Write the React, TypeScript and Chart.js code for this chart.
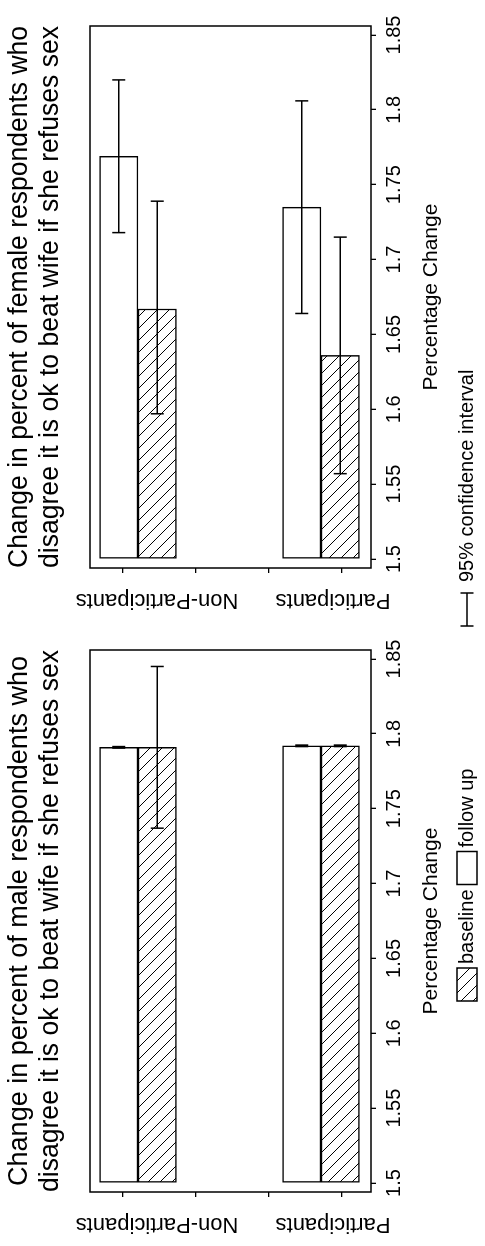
import React, { useEffect, useRef } from 'react';
import { Chart, registerables } from 'chart.js';
Chart.register(...registerables);

const FONT = '"Liberation Sans", Arial, sans-serif';
Chart.defaults.font.family = FONT;
Chart.defaults.color = '#000';

// ---------- data ----------
const categories = ['Non-Participants', 'Participants'];
const seriesNames = ['baseline', 'follow up'];
const ciName = '95% confidence interval';

const maleBaseline = [1.791, 1.792];
const maleBaselineLow = [1.737, 1.7915];
const maleBaselineHigh = [1.845, 1.7925];
const maleFollowUp = [1.791, 1.792];
const maleFollowUpLow = [1.7905, 1.7915];
const maleFollowUpHigh = [1.7915, 1.7925];

const femaleBaseline = [1.667, 1.636];
const femaleBaselineLow = [1.597, 1.557];
const femaleBaselineHigh = [1.739, 1.715];
const femaleFollowUp = [1.769, 1.735];
const femaleFollowUpLow = [1.718, 1.664];
const femaleFollowUpHigh = [1.82, 1.806];

const valueTicks = [1.5, 1.55, 1.6, 1.65, 1.7, 1.75, 1.8, 1.85];
const valueTickLabels = ['1.5', '1.55', '1.6', '1.65', '1.7', '1.75', '1.8', '1.85'];
const categoryTickMarks = [-0.082, 0.317, 0.716, 1.112];

const maleTitle = [
  'Change in percent of male respondents who',
  'disagree it is ok to beat wife if she refuses sex',
];
const femaleTitle = [
  'Change in percent of female respondents who',
  'disagree it is ok to beat wife if she refuses sex',
];
const axisTitle = 'Percentage Change';

// ---------- helpers ----------
function makeHatch(): CanvasPattern | string {
  const s = 12;
  const c = document.createElement('canvas');
  c.width = s;
  c.height = s;
  const g = c.getContext('2d');
  if (!g) return '#fff';
  g.fillStyle = '#fff';
  g.fillRect(0, 0, s, s);
  g.strokeStyle = '#000';
  g.lineWidth = 1;
  g.beginPath();
  g.moveTo(-2, -2);
  g.lineTo(s + 2, s + 2);
  g.moveTo(s - 2, -2);
  g.lineTo(s + 2, 2);
  g.moveTo(-2, s - 2);
  g.lineTo(2, s + 2);
  g.stroke();
  return g.createPattern(c, 'repeat') || '#fff';
}

const framePlugin = {
  id: 'frame',
  afterDatasetsDraw(chart: any) {
    const { ctx, chartArea } = chart;
    ctx.save();
    ctx.strokeStyle = '#000';
    ctx.lineWidth = 1.5;
    ctx.strokeRect(chartArea.left, chartArea.top, chartArea.right - chartArea.left, chartArea.bottom - chartArea.top);
    ctx.restore();
  },
};

const ciPlugin = {
  id: 'ci',
  afterDatasetsDraw(chart: any) {
    const { ctx } = chart;
    const xs = chart.scales.x;
    ctx.save();
    ctx.strokeStyle = '#000';
    ctx.lineWidth = 1.5;
    chart.data.datasets.forEach((ds: any, d: number) => {
      const meta = chart.getDatasetMeta(d);
      meta.data.forEach((el: any, i: number) => {
        const lo = xs.getPixelForValue(ds.ciLow[i]);
        const hi = xs.getPixelForValue(ds.ciHigh[i]);
        const y = el.y;
        const cap = 6.5;
        ctx.beginPath();
        ctx.moveTo(lo, y);
        ctx.lineTo(hi, y);
        ctx.moveTo(lo, y - cap);
        ctx.lineTo(lo, y + cap);
        ctx.moveTo(hi, y - cap);
        ctx.lineTo(hi, y + cap);
        ctx.stroke();
      });
    });
    ctx.restore();
  },
};

const categoryLabelPlugin = {
  id: 'catLabels',
  afterDraw(chart: any) {
    const { ctx, chartArea } = chart;
    const ys = chart.scales.y;
    const shifts = [19, 12];
    ctx.save();
    ctx.fillStyle = '#000';
    ctx.font = `22px ${FONT}`;
    ctx.textAlign = 'center';
    ctx.textBaseline = 'middle';
    categories.forEach((c, i) => {
      const y = ys.getPixelForValue(i) + shifts[i];
      ctx.save();
      ctx.translate(chartArea.left - 32, y);
      ctx.rotate(-Math.PI / 2);
      ctx.fillText(c, 0, 0);
      ctx.restore();
    });
    ctx.restore();
  },
};

function makeLegendPlugin(hatch: CanvasPattern | string) {
  return {
    id: 'customLegend',
    afterDraw(chart: any) {
      const { ctx } = chart;
      const cy = 467;
      const bw = 33;
      const bh = 20;
      ctx.save();
      ctx.font = `20px ${FONT}`;
      ctx.textBaseline = 'middle';
      ctx.textAlign = 'left';
      ctx.lineWidth = 1.5;
      ctx.strokeStyle = '#000';
      // baseline
      let x = 245;
      ctx.fillStyle = hatch;
      ctx.fillRect(x, cy - bh / 2, bw, bh);
      ctx.strokeRect(x, cy - bh / 2, bw, bh);
      ctx.fillStyle = '#000';
      ctx.fillText(seriesNames[0], x + bw + 4, cy);
      // follow up
      x = x + bw + 4 + ctx.measureText(seriesNames[0]).width + 5;
      ctx.fillStyle = '#fff';
      ctx.fillRect(x, cy - bh / 2, bw, bh);
      ctx.strokeRect(x, cy - bh / 2, bw, bh);
      ctx.fillStyle = '#000';
      ctx.fillText(seriesNames[1], x + bw + 4, cy);
      // CI
      x = 620;
      const w = 33;
      const cap = 6.5;
      ctx.beginPath();
      ctx.moveTo(x, cy);
      ctx.lineTo(x + w, cy);
      ctx.moveTo(x, cy - cap);
      ctx.lineTo(x, cy + cap);
      ctx.moveTo(x + w, cy - cap);
      ctx.lineTo(x + w, cy + cap);
      ctx.stroke();
      ctx.fillText(ciName, x + w + 11, cy);
      ctx.restore();
    },
  };
}

function buildConfig(p: {
  title: string[];
  base: number[];
  baseLow: number[];
  baseHigh: number[];
  follow: number[];
  followLow: number[];
  followHigh: number[];
  padRight: number;
  yWidth: number;
  hatch: CanvasPattern | string;
  extraPlugins: any[];
}): any {
  return {
    type: 'bar',
    data: {
      datasets: [
        {
          label: seriesNames[1],
          data: p.follow.map((v, i) => ({ x: v, y: i })),
          ciLow: p.followLow,
          ciHigh: p.followHigh,
          backgroundColor: '#fff',
          borderColor: '#000',
          borderWidth: 1.5,
          borderSkipped: false,
          base: 1.5,
          barThickness: 38.5,
        },
        {
          label: seriesNames[0],
          data: p.base.map((v, i) => ({ x: v, y: i })),
          ciLow: p.baseLow,
          ciHigh: p.baseHigh,
          backgroundColor: p.hatch,
          borderColor: '#000',
          borderWidth: 1.5,
          borderSkipped: false,
          base: 1.5,
          barThickness: 38.5,
        },
      ],
    },
    options: {
      indexAxis: 'y',
      animation: false,
      responsive: false,
      devicePixelRatio: 1,
      layout: { padding: { left: 0, right: p.padRight, top: 0, bottom: 0 } },
      scales: {
        x: {
          type: 'linear',
          position: 'bottom',
          min: 1.494,
          max: 1.856,
          offset: false,
          afterBuildTicks: (s: any) => {
            s.ticks = valueTicks.map((v) => ({ value: v }));
          },
          afterFit: (s: any) => {
            s.height = 114;
          },
          ticks: {
            autoSkip: false,
            maxRotation: 0,
            minRotation: 0,
            padding: 6.5,
            color: '#000',
            font: { size: 20, lineHeight: 1.2 },
            callback: (_v: any, i: number) => valueTickLabels[i],
          },
          grid: { drawOnChartArea: false, drawTicks: true, tickLength: 5, color: '#000', lineWidth: 1.3, offset: false },
          border: { display: false },
          title: {
            display: true,
            text: axisTitle,
            color: '#000',
            font: { size: 21, lineHeight: 1.2 },
            padding: { top: 0, bottom: 41 },
          },
        },
        y: {
          type: 'linear',
          reverse: true,
          offset: false,
          min: -0.2623,
          max: 1.2732,
          afterBuildTicks: (s: any) => {
            s.ticks = categoryTickMarks.map((v) => ({ value: v }));
          },
          afterFit: (s: any) => {
            s.width = p.yWidth;
          },
          ticks: { autoSkip: false, callback: () => '' },
          grid: { drawOnChartArea: false, drawTicks: true, tickLength: 5, color: '#000', lineWidth: 1.3, offset: false },
          border: { display: false },
        },
      },
      plugins: {
        legend: { display: false },
        tooltip: { enabled: false },
        title: {
          display: true,
          text: p.title,
          fullSize: false,
          color: '#000',
          font: { size: 27, weight: 'normal', lineHeight: 31 / 27 },
          padding: { top: 4.5, bottom: 23.5 },
        },
      },
    },
    plugins: [framePlugin, ciPlugin, categoryLabelPlugin, ...p.extraPlugins],
  };
}

export default function App() {
  const maleRef = useRef<HTMLCanvasElement>(null);
  const femaleRef = useRef<HTMLCanvasElement>(null);

  useEffect(() => {
    const hatch = makeHatch();
    const male = new Chart(
      maleRef.current as HTMLCanvasElement,
      buildConfig({
        title: maleTitle,
        base: maleBaseline,
        baseLow: maleBaselineLow,
        baseHigh: maleBaselineHigh,
        follow: maleFollowUp,
        followLow: maleFollowUpLow,
        followHigh: maleFollowUpHigh,
        padRight: 650,
        yWidth: 54,
        hatch,
        extraPlugins: [makeLegendPlugin(hatch)],
      })
    );
    const female = new Chart(
      femaleRef.current as HTMLCanvasElement,
      buildConfig({
        title: femaleTitle,
        base: femaleBaseline,
        baseLow: femaleBaselineLow,
        baseHigh: femaleBaselineHigh,
        follow: femaleFollowUp,
        followLow: femaleFollowUpLow,
        followHigh: femaleFollowUpHigh,
        padRight: 26,
        yWidth: 55,
        hatch,
        extraPlugins: [],
      })
    );
    return () => {
      male.destroy();
      female.destroy();
    };
  }, []);

  return (
    <div
      style={{
        position: 'absolute',
        left: 0,
        top: 0,
        width: 485,
        height: 1246,
        overflow: 'hidden',
        background: '#fff',
      }}
    >
      <div
        style={{
          position: 'absolute',
          left: 0,
          top: 0,
          width: 1246,
          height: 485,
          transformOrigin: '0 0',
          transform: 'translate(0px, 1246px) rotate(-90deg)',
        }}
      >
        <canvas
          ref={maleRef}
          width={1246}
          height={485}
          style={{ position: 'absolute', left: 0, top: 0, width: 1246, height: 485 }}
        />
        <canvas
          ref={femaleRef}
          width={623}
          height={485}
          style={{ position: 'absolute', left: 623, top: 0, width: 623, height: 485 }}
        />
      </div>
    </div>
  );
}
